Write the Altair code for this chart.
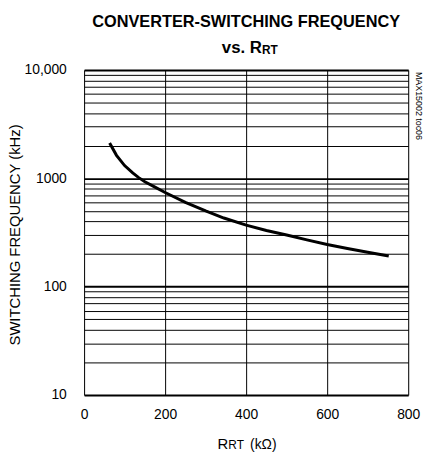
import altair as alt
import pandas as pd

# Data
r_kohm = [63, 80, 100, 120, 134, 150, 175, 200, 250, 300, 345, 400, 450, 500, 550, 600, 650, 700, 752]
freq_khz = [2120, 1630, 1310, 1120, 1020, 930, 830, 740, 600, 500, 430, 370, 330, 300, 270, 245, 225, 208, 192]

x_ticks = [0, 200, 400, 600, 800]
y_grid = [v * m for m in (10, 100, 1000) for v in range(1, 10)] + [10000]

FONT = "Liberation Sans"
W, H = 328, 329

df = pd.DataFrame({"r": r_kohm, "f": freq_khz})

line = alt.Chart(df).mark_line(color="black", strokeWidth=3).encode(
    x=alt.X("r:Q", scale=alt.Scale(domain=[0, 800], nice=False),
            axis=alt.Axis(values=x_ticks, grid=True, gridColor="black", gridWidth=1, gridOpacity=1,
                          tickSize=0, domain=False, labelFont=FONT, labelFontSize=14,
                          labelColor="black", labelPadding=13, title=None, labelFlush=False)),
    y=alt.Y("f:Q", scale=alt.Scale(type="log", domain=[10, 10000], nice=False),
            axis=alt.Axis(values=y_grid, grid=True, gridColor="black", gridOpacity=1,
                          gridWidth={"condition": {"test": "datum.value == 10 || datum.value == 100 || datum.value == 1000 || datum.value == 10000", "value": 2}, "value": 1},
                          tickSize=0, domain=False, labelFont=FONT, labelFontSize=14, labelColor="black",
                          labelPadding=18,
                          labelExpr="datum.value == 10000 ? '10,000' : ((datum.value == 10 || datum.value == 100 || datum.value == 1000) ? '' + datum.value : '')",
                          title="SWITCHING FREQUENCY (kHz)", titleFont=FONT, titleFontSize=15,
                          titleFontWeight="normal", titleColor="black",
                          titleX=-70, titleY=H / 2 + 2, titleAlign="center", titleBaseline="middle",
                          titleAngle=270, labelFlush=False)),
)

def txt(s, x, y, size, weight="normal", align="left", baseline="alphabetic", angle=0):
    kw = dict(text=s, font=FONT, fontSize=size, fontWeight=weight, align=align,
              baseline=baseline, color="black")
    if angle:
        kw["angle"] = angle
    return alt.Chart(pd.DataFrame({"a": [0]})).mark_text(**kw).encode(
        x=alt.value(x), y=alt.value(y))

texts = [
    txt("CONVERTER-SWITCHING FREQUENCY", 164, -43, 16.5, "bold", "center"),
    txt("vs. R", 180, -17, 17, "bold", "right"),
    txt("RT", 180, -16, 12, "bold", "left"),
    txt("R", 135, 384, 15),
    txt("RT", 146, 384, 12),
    txt("(kΩ)", 168, 384, 14),
    txt("MAX15002 toc06", W + 11, 2, 9, "normal", "left", "middle", 90),
]

chart = alt.layer(line, *texts).properties(
    width=W, height=H,
    autosize=alt.AutoSizeParams(type="none"),
    padding={"left": 77, "top": 60, "right": 17, "bottom": 57},
).configure_view(stroke="black", strokeWidth=3).configure(background="white")

chart.save("out.html", embed_options={"renderer": "svg", "actions": False})
